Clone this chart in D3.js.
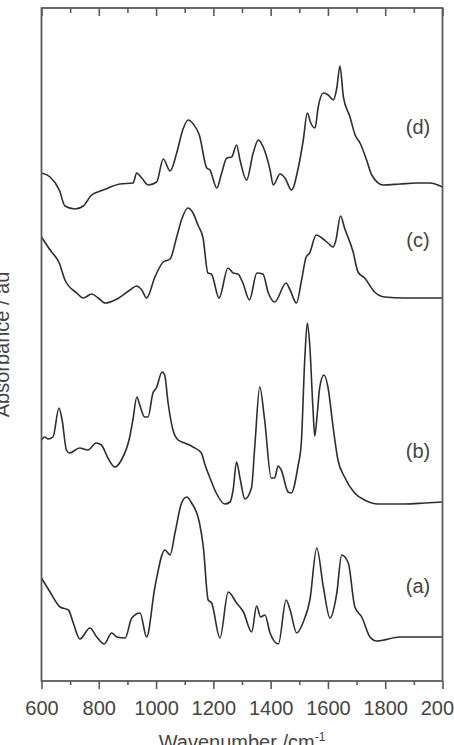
<!DOCTYPE html>
<html>
<head>
<meta charset="utf-8">
<script src="https://cdn.jsdelivr.net/npm/d3@7"></script>
<style>
  body { margin: 0; background: #fff; }
  svg { display: block; font-family: "Liberation Sans", Arial, sans-serif; }
</style>
</head>
<body>
<svg></svg>
<script>
let width = 454, height = 745;

// spectra, wavenumber (cm-1) and absorbance (offset, au)
let waveA = [600,630,665,694,711,734,769,793,819,845,863,892,915,944,967,996,1031,1049,1066,1089,1107,1124,1151,1165,1182,1194,1223,1252,1281,1305,1334,1351,1365,1380,1398,1427,1454,1468,1491,1514,1537,1561,1584,1607,1631,1648,1671,1694,1718,1747,1770,1852,2000];
let absA = [1.03,0.89,0.74,0.71,0.58,0.42,0.53,0.44,0.37,0.48,0.44,0.43,0.63,0.68,0.44,0.94,1.31,1.26,1.48,1.78,1.84,1.78,1.59,1.34,0.81,0.78,0.43,0.89,0.78,0.69,0.49,0.75,0.64,0.66,0.48,0.37,0.81,0.71,0.48,0.59,0.81,1.33,0.94,0.63,0.88,1.26,1.18,0.74,0.64,0.44,0.40,0.44,0.44];

let waveB = [600,611,623,640,661,672,687,698,733,762,791,809,832,856,879,908,919,933,943,960,972,989,1001,1021,1030,1042,1059,1077,1100,1129,1158,1171,1187,1210,1240,1258,1269,1281,1293,1310,1333,1345,1362,1379,1402,1414,1426,1437,1461,1472,1495,1507,1519,1528,1536,1548,1554,1563,1571,1586,1600,1618,1635,1658,1693,1728,1775,1868,1938,2000];
let absB = [2.41,2.44,2.42,2.44,2.73,2.61,2.31,2.28,2.33,2.31,2.38,2.36,2.23,2.14,2.21,2.44,2.61,2.84,2.76,2.64,2.64,2.88,2.93,3.09,3.06,2.78,2.51,2.41,2.38,2.34,2.28,2.16,2.04,1.88,1.77,1.79,1.91,2.19,2.03,1.82,1.93,2.36,2.94,2.61,2.03,2.03,2.15,2.11,1.89,1.88,2.14,2.38,3.21,3.58,3.38,2.71,2.45,2.68,2.93,3.06,2.94,2.54,2.21,2.04,1.88,1.81,1.77,1.77,1.78,1.79];

let waveC = [600,630,662,682,723,746,775,798,822,863,909,932,950,967,996,1025,1049,1072,1091,1111,1129,1146,1164,1181,1193,1220,1251,1269,1286,1303,1326,1352,1373,1392,1414,1454,1468,1490,1508,1524,1536,1559,1579,1600,1618,1628,1644,1658,1688,1705,1728,1763,1798,1868,2000];
let absC = [4.44,4.31,4.18,4.01,3.88,3.83,3.87,3.83,3.78,3.82,3.91,3.95,3.91,3.83,4.04,4.19,4.22,4.44,4.63,4.73,4.68,4.56,4.43,4.08,4.07,3.83,4.13,4.08,4.07,3.98,3.81,4.08,4.07,3.88,3.79,3.98,3.91,3.78,4.01,4.24,4.28,4.46,4.43,4.38,4.34,4.41,4.65,4.53,4.29,4.09,4.03,3.89,3.84,3.83,3.83];

let waveD = [600,630,662,682,717,746,775,816,874,920,932,950,973,1002,1025,1049,1072,1093,1112,1130,1151,1177,1188,1212,1229,1247,1264,1281,1293,1316,1339,1357,1374,1398,1409,1433,1450,1473,1497,1514,1528,1540,1555,1566,1584,1601,1619,1631,1642,1654,1677,1695,1712,1735,1753,1793,1852,1910,1956,2000];
let absD = [5.08,5.04,4.91,4.75,4.72,4.75,4.86,4.91,4.97,4.98,5.08,5.03,4.96,4.99,5.22,5.10,5.28,5.51,5.61,5.57,5.46,5.13,5.11,4.93,5.08,5.23,5.24,5.36,5.21,5.01,5.28,5.41,5.34,5.11,4.96,5.07,5.03,4.91,5.14,5.41,5.68,5.58,5.53,5.74,5.88,5.86,5.81,5.93,6.15,5.84,5.64,5.46,5.38,5.21,5.06,4.96,4.97,4.98,4.98,4.94];

let labels = ["(a)", "(b)", "(c)", "(d)"];
let labelPos = [0.88, 2.23, 4.34, 5.47];   // absorbance level of each label baseline
let majorTicks = [600, 800, 1000, 1200, 1400, 1600, 1800, 2000];
let minorTicks = [700, 900, 1100, 1300, 1500, 1700, 1900];

let margin = {left: 41.5, right: 11.5, top: 8, bottom: 64};

let svg = d3.select("svg")
    .attr("width", width)
    .attr("height", height);

let x = d3.scaleLinear()
    .domain([600, 2000])
    .range([margin.left, width - margin.right]);

let y = d3.scaleLinear()
    .domain([0, 6.73])
    .range([height - margin.bottom, margin.top]);

let series = [
    {wave: waveA, abs: absA},
    {wave: waveB, abs: absB},
    {wave: waveC, abs: absC},
    {wave: waveD, abs: absD}
];

let line = d3.line()
    .x(d => x(d[0]))
    .y(d => y(d[1]))
    .curve(d3.curveMonotoneX);

svg.append("g")
    .attr("id", "spectra")
    .selectAll("path")
    .data(series)
    .enter()
    .append("path")
    .attr("fill", "none")
    .attr("stroke", "#2e2e2e")
    .attr("stroke-width", 1.6)
    .attr("stroke-linejoin", "round")
    .attr("d", s => line(s.wave.map((w, i) => [w, s.abs[i]])));

// frame
let axisColor = "#5a5a5a";
svg.append("rect")
    .attr("x", x(600))
    .attr("y", y(6.73))
    .attr("width", x(2000) - x(600))
    .attr("height", y(0) - y(6.73))
    .attr("fill", "none")
    .attr("stroke", axisColor)
    .attr("stroke-width", 1.8);

// bottom axis, ticks outward
let bottom = svg.append("g")
    .attr("transform", "translate(0," + y(0) + ")")
    .call(d3.axisBottom(x).tickValues(majorTicks).tickSize(8).tickSizeOuter(0).tickFormat(d3.format("d")));
svg.append("g")
    .attr("transform", "translate(0," + y(0) + ")")
    .call(d3.axisBottom(x).tickValues(minorTicks).tickSize(4).tickSizeOuter(0).tickFormat(""));

// top axis, ticks pointing into the plot
svg.append("g")
    .attr("transform", "translate(0," + y(6.73) + ")")
    .call(d3.axisBottom(x).tickValues(majorTicks).tickSize(8).tickSizeOuter(0).tickFormat(""));
svg.append("g")
    .attr("transform", "translate(0," + y(6.73) + ")")
    .call(d3.axisBottom(x).tickValues(minorTicks).tickSize(5).tickSizeOuter(0).tickFormat(""));

svg.selectAll(".domain").remove();
svg.selectAll(".tick line")
    .attr("stroke", axisColor)
    .attr("stroke-width", 1.6);

bottom.selectAll("text")
    .attr("fill", "#444")
    .attr("font-size", 20)
    .attr("font-family", "Liberation Sans, Arial, sans-serif")
    .attr("dy", null)
    .attr("y", 34);

// spectrum labels
svg.append("g")
    .selectAll("text")
    .data(labels)
    .enter()
    .append("text")
    .attr("x", 418)
    .attr("y", (d, i) => y(labelPos[i]))
    .attr("text-anchor", "middle")
    .attr("fill", "#444")
    .attr("font-size", 20)
    .text(d => d);

// axis titles
let xt = svg.append("text")
    .attr("x", (x(600) + x(2000)) / 2)
    .attr("y", 749)
    .attr("text-anchor", "middle")
    .attr("fill", "#444")
    .attr("font-size", 20);
xt.append("tspan").text("Wavenumber /cm");
xt.append("tspan").attr("font-size", 12).attr("dy", -8).text("-1");

svg.append("text")
    .attr("transform", "translate(9," + ((y(0) + y(6.73)) / 2) + ") rotate(-90)")
    .attr("text-anchor", "middle")
    .attr("fill", "#444")
    .attr("font-size", 20)
    .text("Absorbance / au");
</script>
</body>
</html>
